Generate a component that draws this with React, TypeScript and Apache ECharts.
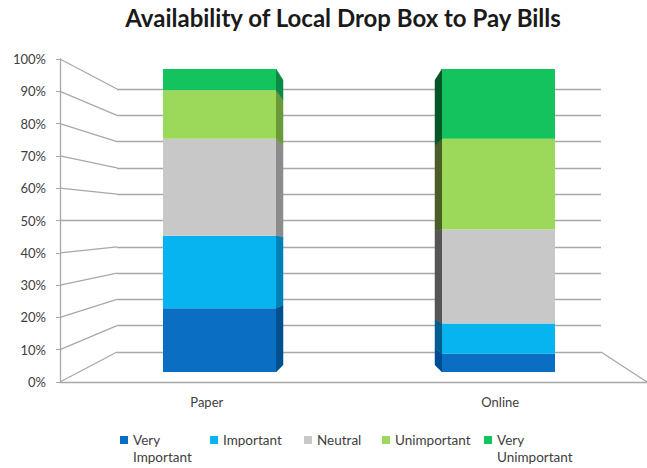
import React, { useEffect, useRef } from "react";
import * as echarts from "echarts";

const categories = ["Paper", "Online"];
const seriesNames = ["Very Important", "Important", "Neutral", "Unimportant", "Very Unimportant"];
const veryImportant = [21, 6];
const important = [24, 10];
const neutral = [32, 31];
const unimportant = [16, 30];
const veryUnimportant = [7, 23];
const tickValues = [0, 10, 20, 30, 40, 50, 60, 70, 80, 90, 100];

const seriesValues = [veryImportant, important, neutral, unimportant, veryUnimportant];

const COLORS = ["#0A6FC2", "#07B4F0", "#C8C8C8", "#9CD85A", "#14C25E"];
const SIDE_COLORS = [
  ["#00508F", "#0080B5", "#8C8C8C", "#6A9A3A", "#0A8A44"],
  ["#004C94", "#005F8E", "#555555", "#4B5E28", "#08552A"],
];
const LEGEND_LEFT = [115, 205, 299, 377, 479];
const LEGEND_LABELS = ["\u00a0\nVery\nImportant", "Important", "Neutral", "Unimportant", "\u00a0\nVery\nUnimportant"];
const FONT = "Lato, 'Open Sans', sans-serif";
const GRID_COLOR = "#A8A8A8";

export default function App() {
  const ref = useRef<HTMLDivElement>(null);

  useEffect(() => {
    if (!ref.current) return;
    const chart = echarts.init(ref.current, undefined, { renderer: "svg" });

    const sideData: number[][] = [];
    categories.forEach((_, ci) => {
      let acc = 0;
      seriesValues.forEach((vals, si) => {
        const start = acc;
        acc += vals[ci];
        sideData.push([ci, start, acc, si]);
      });
    });

    const BAR_WIDTH = 113;
    const SIDE_DEPTH = 7;
    const SIDE_SCALE = 0.94;

    const legends = seriesNames.map((name, i) => {
      const multi = LEGEND_LABELS[i].indexOf("\n") >= 0;
      return {
        left: LEGEND_LEFT[i],
        top: multi ? 409.5 : 426.5,
        orient: "horizontal",
        itemWidth: 8,
        itemHeight: 8,
        icon: "rect",
        selectedMode: false,
        formatter: () => LEGEND_LABELS[i],
        data: [
          {
            name,
            textStyle: {
              fontFamily: FONT,
              fontSize: 13.5,
              color: "#404040",
              lineHeight: 17,
            },
          },
        ],
      };
    });

    const option: any = {
      animation: false,
      backgroundColor: "#ffffff",
      title: {
        text: "Availability of Local Drop Box to Pay Bills",
        left: 338,
        top: 0,
        textAlign: "center",
        textStyle: { fontFamily: FONT, fontWeight: "bold", fontSize: 24, color: "#1a1a1a" },
      },
      legend: legends,
      grid: [
        { left: 60, top: 59, width: 596, height: 323 },
        { left: 117, top: 89, width: 484, height: 263 },
        { left: 80, top: 69, width: 558, height: 303 },
      ],
      xAxis: [
        {
          gridIndex: 0,
          type: "category",
          data: categories,
          axisLine: { show: true, lineStyle: { color: GRID_COLOR, width: 1.3 } },
          axisTick: { show: false },
          axisLabel: { fontFamily: FONT, fontSize: 13, color: "#404040", margin: 13 },
        },
        { gridIndex: 1, type: "value", min: 0, max: 1, show: false },
        { gridIndex: 2, type: "category", data: categories, show: false },
      ],
      yAxis: [
        {
          gridIndex: 0,
          type: "value",
          min: 0,
          max: 100,
          interval: 10,
          axisLine: { show: true, lineStyle: { color: GRID_COLOR, width: 1.3 } },
          axisTick: { show: true, length: 4, lineStyle: { color: GRID_COLOR } },
          splitLine: { show: false },
          axisLabel: { fontFamily: FONT, fontSize: 13, color: "#404040", margin: 14, formatter: "{value}%" },
        },
        {
          gridIndex: 1,
          type: "value",
          min: 0,
          max: 100,
          interval: 10,
          axisLine: { show: false },
          axisTick: { show: false },
          axisLabel: { show: false },
          splitLine: { show: true, lineStyle: { color: GRID_COLOR, width: 1.3 } },
        },
        { gridIndex: 2, type: "value", min: 0, max: 100, show: false },
      ],
      series: [
        {
          type: "custom",
          name: "walls",
          xAxisIndex: 0,
          yAxisIndex: 0,
          z: 1,
          silent: true,
          data: tickValues.map((v) => [0, v]),
          renderItem: (params: any, api: any) => {
            const v = api.value(1);
            const cs = params.coordSys;
            const front = api.coord([0, v]);
            const back = chart.convertToPixel({ xAxisIndex: 1, yAxisIndex: 1 } as any, [0, v]) as any;
            if (!back) return null;
            const children: any[] = [
              {
                type: "line",
                shape: { x1: cs.x, y1: front[1], x2: back[0], y2: back[1] },
                style: { stroke: GRID_COLOR, lineWidth: 1.3 },
              },
            ];
            if (v === 0) {
              const backR = chart.convertToPixel({ xAxisIndex: 1, yAxisIndex: 1 } as any, [1, v]) as any;
              children.push({
                type: "line",
                shape: { x1: backR[0], y1: backR[1], x2: cs.x + cs.width, y2: front[1] },
                style: { stroke: GRID_COLOR, lineWidth: 1.3 },
              });
            }
            return { type: "group", children };
          },
        },
        ...seriesNames.map((name, i) => ({
          type: "bar",
          name,
          xAxisIndex: 2,
          yAxisIndex: 2,
          stack: "total",
          barWidth: BAR_WIDTH,
          z: 3,
          itemStyle: { color: COLORS[i] },
          data: seriesValues[i],
        })),
        {
          type: "custom",
          name: "sides",
          xAxisIndex: 2,
          yAxisIndex: 2,
          z: 3,
          silent: true,
          data: sideData,
          renderItem: (params: any, api: any) => {
            const ci = api.value(0);
            const start = api.value(1);
            const end = api.value(2);
            const si = api.value(3);
            const cs = params.coordSys;
            const p1 = api.coord([ci, start]);
            const p2 = api.coord([ci, end]);
            const dir = p1[0] < cs.x + cs.width / 2 ? 1 : -1;
            const yc = api.coord([ci, 39])[1];
            const xf = p1[0] + (dir * BAR_WIDTH) / 2;
            const xb = xf + dir * SIDE_DEPTH;
            const yb1 = yc + (p1[1] - yc) * SIDE_SCALE;
            const yb2 = yc + (p2[1] - yc) * SIDE_SCALE;
            return {
              type: "polygon",
              shape: { points: [[xf, p1[1]], [xb, yb1], [xb, yb2], [xf, p2[1]]] },
              style: { fill: SIDE_COLORS[ci][si], stroke: SIDE_COLORS[ci][si], lineWidth: 0.5 },
            };
          },
        },
      ],
    };

    chart.setOption(option);
    return () => chart.dispose();
  }, []);

  return <div ref={ref} style={{ width: 647, height: 468, position: "absolute", left: 0, top: 0 }} />;
}
